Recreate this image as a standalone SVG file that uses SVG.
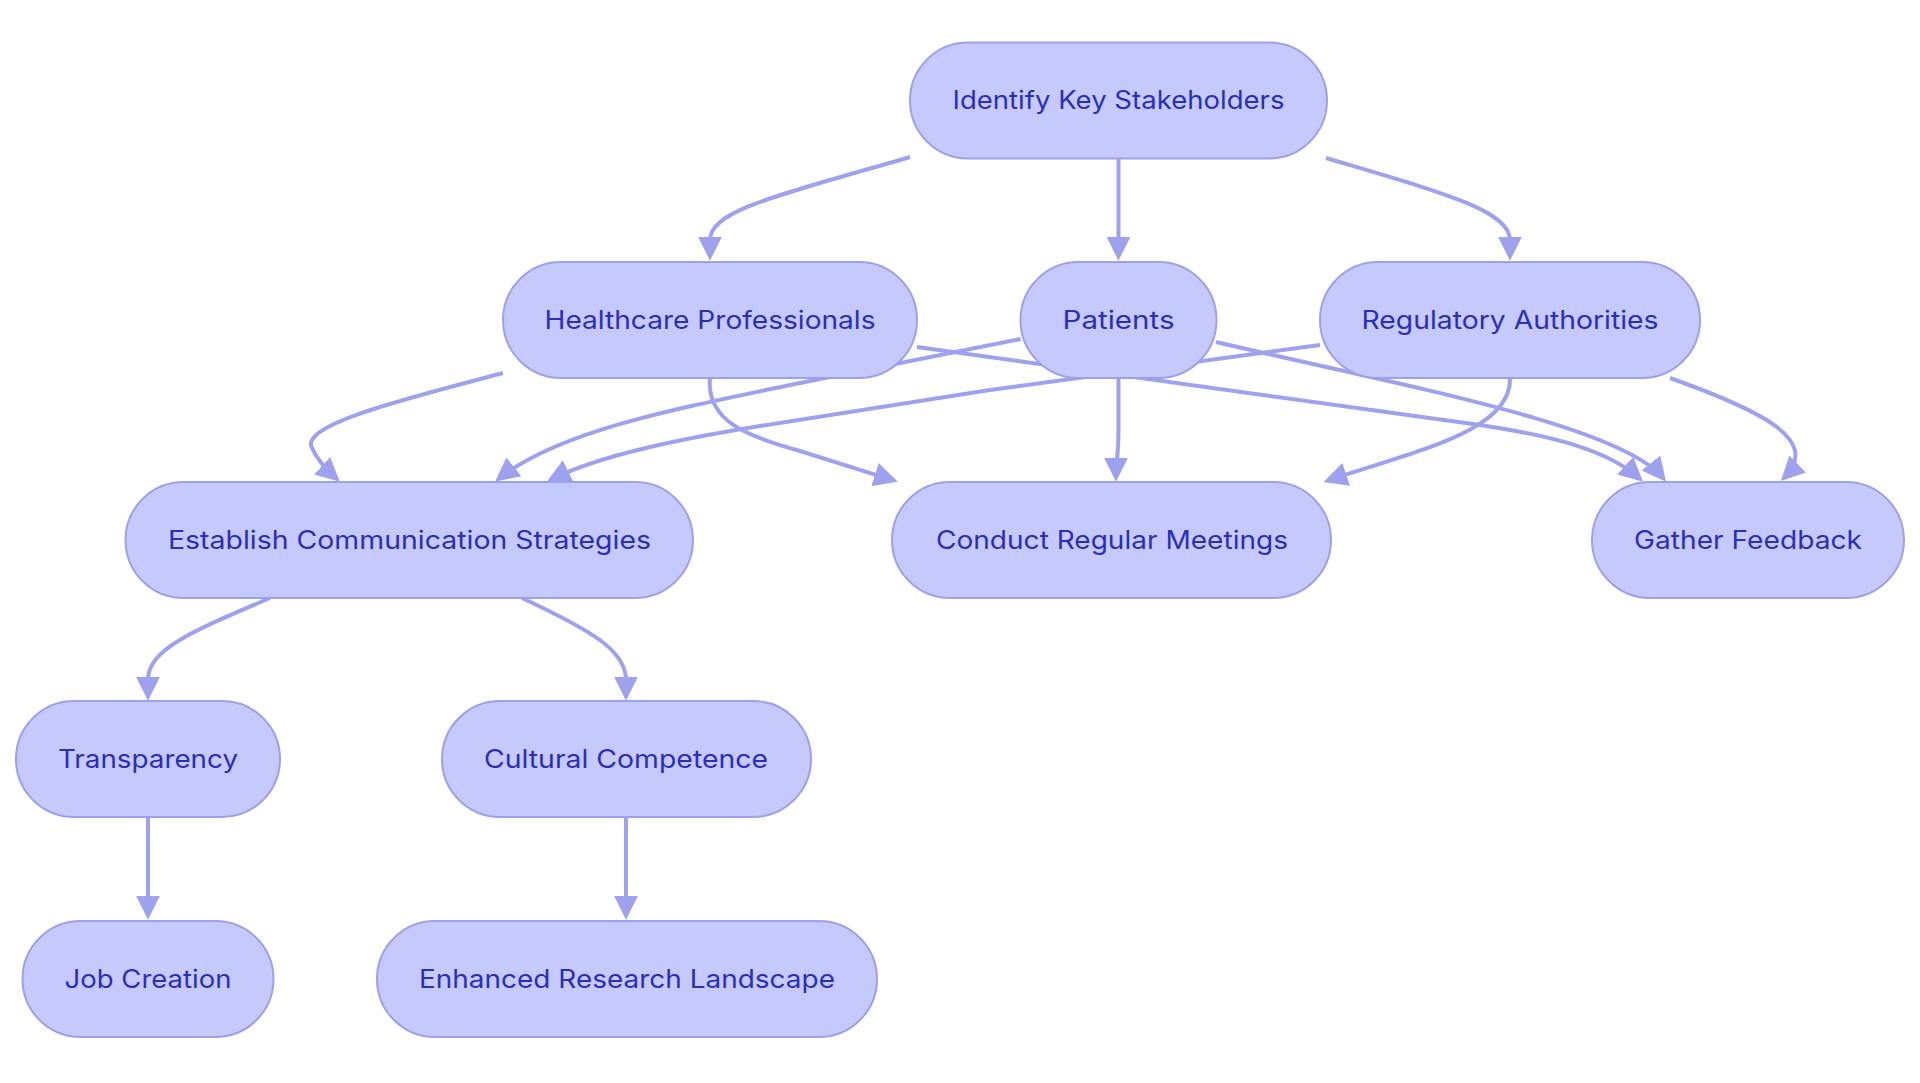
<svg xmlns="http://www.w3.org/2000/svg" width="1920" height="1083" viewBox="0 0 1920 1083">
<style>
.node rect{fill:#C6C9FE;stroke:#9DA0EA;stroke-width:2}
.node text{font-family:Inter,"Noto Sans",sans-serif;font-size:25.5px;fill:#2B2FB6;text-anchor:middle}
.edges path{fill:none;stroke:#9EA2EE;stroke-width:4;marker-end:url(#arrow)}
</style>
<defs>
<marker id="arrow" viewBox="0 0 10 10" refX="8" refY="5" markerUnits="userSpaceOnUse" markerWidth="24" markerHeight="24" orient="auto">
<path d="M0,0 L10,5 L0,10 z" fill="#9EA2EE"/>
</marker>
</defs>
<rect width="1920" height="1083" fill="#ffffff"/>
<g id="connectors" class="edges">
<path d="M910,157 C780,195 710,210 710,240 L710,256"/>
<path d="M1118.5,158 L1118.5,256"/>
<path d="M1326,158 C1440,192 1510,210 1510,240 L1510,256"/>
<path d="M503,373 C400,400 300,425 312,448 Q318,462 336.3,478.6"/>
<path d="M710,378 C706,420 745,436 800,451 L893.3,480.3"/>
<path d="M917,347 L1480,425 C1560,437 1610,452 1639.5,478.5"/>
<path d="M1020.5,339 L800,383 C680,408 560,430 498.8,478.8"/>
<path d="M1118.5,378 L1118.5,430 C1118.5,455 1116,462 1116,477"/>
<path d="M1216,342 C1400,385 1620,425 1663,478"/>
<path d="M1320,345 L990,390 L760,426 C680,439 600,455 551,479.5"/>
<path d="M1510,378 C1512,430 1420,450 1328,480.5"/>
<path d="M1670,378 C1760,410 1822,440 1784.2,477.5"/>
<path d="M270,598 C190,632 148,650 148,680 L148,696"/>
<path d="M522,598 C590,630 626,650 626,680 L626,696"/>
<path d="M148,817 L148,915"/>
<path d="M626,817 L626,915"/>
</g>
<g id="n-identify" class="node"><rect x="910" y="42.5" width="417" height="116" rx="58" ry="58"/><text x="1118.5" y="109" textLength="332" lengthAdjust="spacingAndGlyphs">Identify Key Stakeholders</text></g>
<g id="n-healthcare" class="node"><rect x="503" y="262" width="414" height="116" rx="58" ry="58"/><text x="710" y="328.5" textLength="331" lengthAdjust="spacingAndGlyphs">Healthcare Professionals</text></g>
<g id="n-patients" class="node"><rect x="1020.5" y="262" width="196" height="116" rx="58" ry="58"/><text x="1118.5" y="328.5" textLength="112" lengthAdjust="spacingAndGlyphs">Patients</text></g>
<g id="n-regulatory" class="node"><rect x="1320" y="262" width="380" height="116" rx="58" ry="58"/><text x="1510" y="328.5" textLength="297" lengthAdjust="spacingAndGlyphs">Regulatory Authorities</text></g>
<g id="n-establish" class="node"><rect x="125.5" y="482" width="567.5" height="116" rx="58" ry="58"/><text x="409.5" y="548.5" textLength="483" lengthAdjust="spacingAndGlyphs">Establish Communication Strategies</text></g>
<g id="n-conduct" class="node"><rect x="892" y="482" width="439" height="116" rx="58" ry="58"/><text x="1112" y="548.5" textLength="352" lengthAdjust="spacingAndGlyphs">Conduct Regular Meetings</text></g>
<g id="n-gather" class="node"><rect x="1592" y="482" width="312" height="116" rx="58" ry="58"/><text x="1748" y="548.5" textLength="228" lengthAdjust="spacingAndGlyphs">Gather Feedback</text></g>
<g id="n-transparency" class="node"><rect x="16" y="701" width="264" height="116" rx="58" ry="58"/><text x="148" y="767.5" textLength="180" lengthAdjust="spacingAndGlyphs">Transparency</text></g>
<g id="n-cultural" class="node"><rect x="442" y="701" width="369" height="116" rx="58" ry="58"/><text x="626" y="767.5" textLength="284" lengthAdjust="spacingAndGlyphs">Cultural Competence</text></g>
<g id="n-job" class="node"><rect x="22.5" y="921" width="251" height="116" rx="58" ry="58"/><text x="148" y="987.5" textLength="167" lengthAdjust="spacingAndGlyphs">Job Creation</text></g>
<g id="n-enhanced" class="node"><rect x="377" y="921" width="500" height="116" rx="58" ry="58"/><text x="627" y="987.5" textLength="416" lengthAdjust="spacingAndGlyphs">Enhanced Research Landscape</text></g>
</svg>
